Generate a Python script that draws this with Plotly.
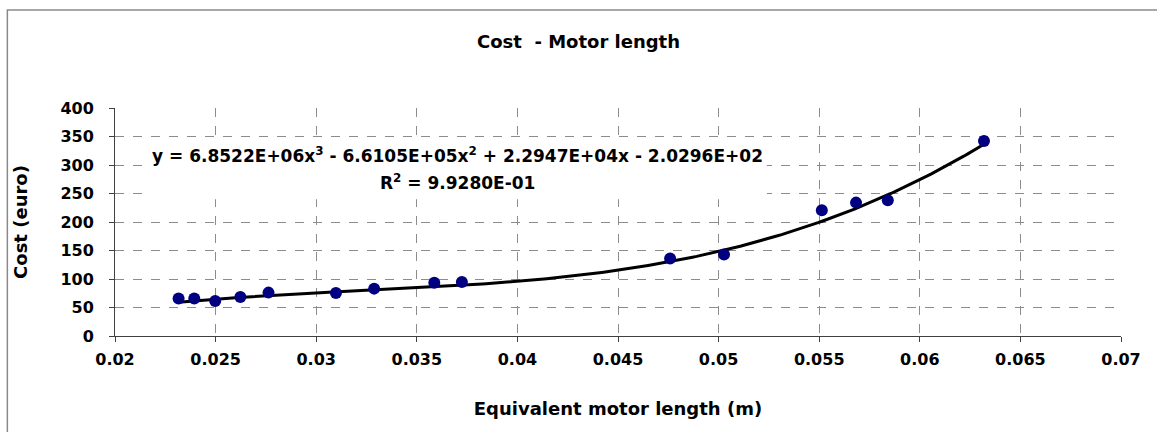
import numpy as np
import plotly.graph_objects as go

# Measured motor lengths (m) and costs (euro)
motor_length = [0.02316, 0.02394, 0.02498, 0.02623, 0.02763, 0.03098, 0.03288,
                0.03587, 0.03724, 0.04759, 0.05027, 0.05513, 0.05683, 0.05841, 0.06319]
cost = [65.6, 65.6, 61.4, 68.4, 76.1, 75.4, 83.1,
        93.6, 94.7, 135.8, 142.8, 220.5, 234.0, 238.0, 342.0]

# Cubic trend line coefficients (highest power first)
poly_coeffs = [6.8522e6, -6.6105e5, 2.2947e4, -2.0296e2]
r_squared_text = "9.9280E-01"

x_ticks = [0.02, 0.025, 0.03, 0.035, 0.04, 0.045, 0.05, 0.055, 0.06, 0.065, 0.07]
x_tick_text = ["0.02", "0.025", "0.03", "0.035", "0.04", "0.045", "0.05",
               "0.055", "0.06", "0.065", "0.07"]
y_ticks = [0, 50, 100, 150, 200, 250, 300, 350, 400]

FONT = "DejaVu Sans, Arial, sans-serif"

trend_x = np.linspace(min(motor_length), max(motor_length), 200)
trend_y = np.polyval(poly_coeffs, trend_x)

fig = go.Figure()
fig.add_trace(go.Scatter(
    x=trend_x, y=trend_y, mode="lines",
    line=dict(color="black", width=3), hoverinfo="skip", showlegend=False))
fig.add_trace(go.Scatter(
    x=motor_length, y=cost, mode="markers",
    marker=dict(color="#000080", size=12), showlegend=False))

axis_common = dict(
    showgrid=True, gridcolor="#8c8c8c", griddash="dash", gridwidth=1,
    showline=True, linecolor="#404040", linewidth=1,
    ticks="outside", ticklen=5, tickcolor="#404040",
    zeroline=False,
    tickfont=dict(family=FONT, size=16, color="black", weight="bold"),
)

fig.update_xaxes(
    range=[0.02, 0.07], tickvals=x_ticks, ticktext=x_tick_text,
    ticklabelstandoff=4,
    title=dict(text="<b>Equivalent motor length (m)</b>",
               font=dict(family=FONT, size=18, color="black"), standoff=34),
    **axis_common)
fig.update_yaxes(
    range=[0, 400], tickvals=y_ticks,
    ticklabelstandoff=12,
    title=dict(text="<b>Cost (euro)</b>",
               font=dict(family=FONT, size=18, color="black"), standoff=28),
    **axis_common)

# White panel behind the trend-line equation
fig.add_shape(type="rect", xref="x", yref="y", layer="between",
              x0=0.0217, x1=0.0524, y0=240, y1=343,
              fillcolor="white", line=dict(width=0))

eq_text = ("<b>y = {:.4E}x<sup>3</sup> - {:.4E}x<sup>2</sup> + {:.4E}x - {:.4E}</b>"
           .format(poly_coeffs[0], -poly_coeffs[1], poly_coeffs[2], -poly_coeffs[3]))
fig.add_annotation(
    x=0.03704, y=317, xref="x", yref="y", text=eq_text, showarrow=False,
    font=dict(family=FONT, size=17, color="black"))
fig.add_annotation(
    x=0.03704, y=270, xref="x", yref="y",
    text="<b>R<sup>2</sup> = {}</b>".format(r_squared_text), showarrow=False,
    font=dict(family=FONT, size=17, color="black"))

# Outer chart frame
fig.add_shape(type="rect", xref="paper", yref="paper",
              x0=-0.107, x1=1.2, y0=-0.8, y1=1.43,
              line=dict(color="#8a8a8a", width=1.5), fillcolor="rgba(0,0,0,0)")

fig.update_layout(
    width=1157, height=432,
    margin=dict(l=115, r=36, t=108, b=96),
    paper_bgcolor="white", plot_bgcolor="white",
    title=dict(text="<b>Cost  - Motor length</b>", x=0.5, xanchor="center",
               y=1 - 42 / 432, yanchor="middle",
               font=dict(family=FONT, size=18, color="black")),
)

fig.write_html("out.html")
